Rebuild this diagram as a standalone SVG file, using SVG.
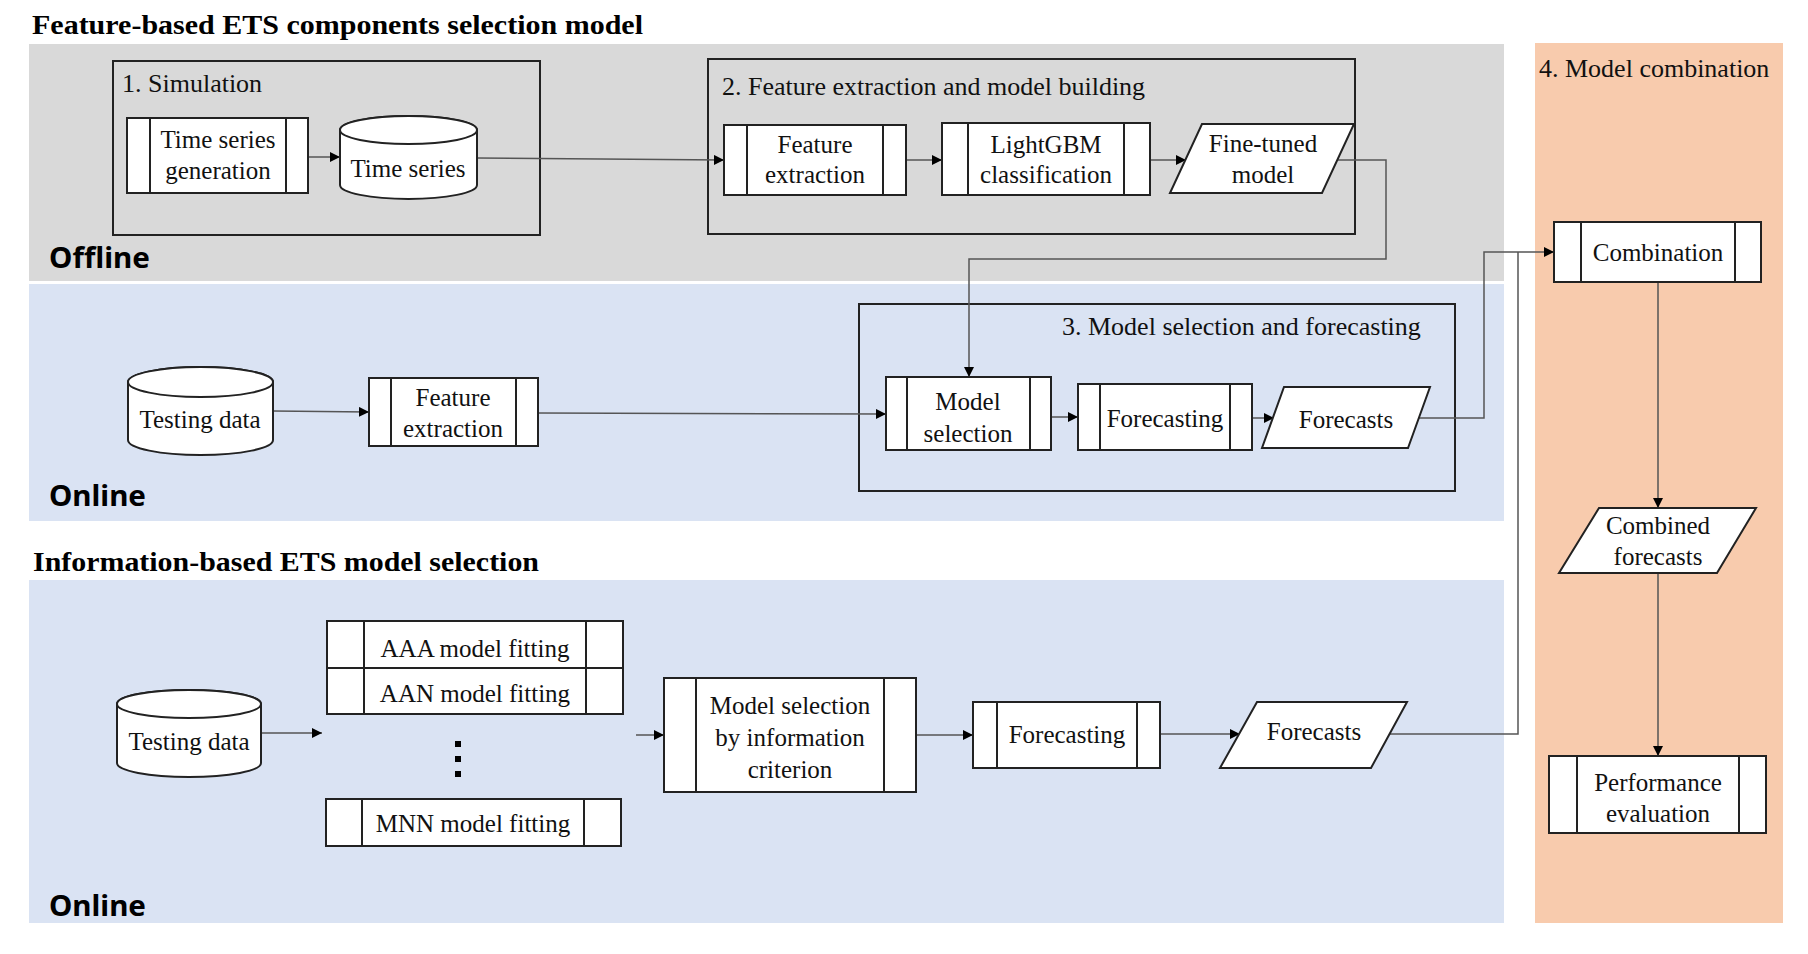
<svg xmlns="http://www.w3.org/2000/svg" width="1808" height="954" viewBox="0 0 1808 954">
<defs>
<style>
.t{font-family:"Liberation Serif","Times New Roman",serif;font-size:25px;fill:#111;text-anchor:middle}
.lbl{font-family:"Liberation Serif","Times New Roman",serif;font-size:26px;fill:#111}
.ttl{font-family:"Liberation Serif","Times New Roman",serif;font-size:27px;font-weight:bold;fill:#000}
.zone{font-family:"Noto Sans","Open Sans",sans-serif;font-size:29px;font-weight:bold;fill:#000}
.nd{fill:#fff;stroke:#222;stroke-width:2}
.grp{fill:none;stroke:#222;stroke-width:2}
.cn{fill:none;stroke:#555;stroke-width:1.5}
</style>
<marker id="ah" viewBox="0 0 10 10" refX="10" refY="5" markerWidth="10" markerHeight="10" markerUnits="userSpaceOnUse" orient="auto">
<path d="M0,0 L10,5 L0,10 Z" fill="#000"/>
</marker>
</defs>
<rect width="1808" height="954" fill="#fff"/>

<g id="bands">
<rect x="29" y="44" width="1475" height="237" fill="#d9d9d9"/>
<rect x="29" y="284" width="1475" height="237" fill="#dae3f3"/>
<rect x="29" y="580" width="1475" height="343" fill="#dae3f3"/>
<rect x="1535" y="43" width="248" height="880" fill="#f8cbad"/>
</g>

<g id="titles">
<text class="ttl" x="32" y="34" textLength="611" lengthAdjust="spacingAndGlyphs">Feature-based ETS components selection model</text>
<text class="ttl" x="33" y="571" textLength="506" lengthAdjust="spacingAndGlyphs">Information-based ETS model selection</text>
<text class="zone" x="49" y="268" textLength="101" lengthAdjust="spacingAndGlyphs">Offline</text>
<text class="zone" x="49" y="506" textLength="97" lengthAdjust="spacingAndGlyphs">Online</text>
<text class="zone" x="49" y="916" textLength="97" lengthAdjust="spacingAndGlyphs">Online</text>
</g>

<g id="group1">
<rect class="grp" x="113" y="61" width="427" height="174"/>
<text class="lbl" x="122" y="92">1. Simulation</text>
</g>
<g id="group2">
<rect class="grp" x="708" y="59" width="647" height="175"/>
<text class="lbl" x="722" y="95">2. Feature extraction and model building</text>
</g>
<g id="group3">
<rect class="grp" x="859" y="304" width="596" height="187"/>
<text class="lbl" x="1062" y="335">3. Model selection and forecasting</text>
</g>
<g id="group4">
<text class="lbl" x="1539" y="77">4. Model combination</text>
</g>

<g id="connectors">
<line class="cn" x1="308" y1="157" x2="340" y2="157" marker-end="url(#ah)"/>
<line class="cn" x1="477" y1="158" x2="724" y2="160" marker-end="url(#ah)"/>
<line class="cn" x1="906" y1="160" x2="942" y2="160" marker-end="url(#ah)"/>
<line class="cn" x1="1150" y1="160" x2="1186" y2="160" marker-end="url(#ah)"/>
<path class="cn" d="M1337,160 H1386 V259 H969 V377" marker-end="url(#ah)"/>
<line class="cn" x1="273" y1="411" x2="369" y2="412" marker-end="url(#ah)"/>
<line class="cn" x1="538" y1="413" x2="886" y2="414" marker-end="url(#ah)"/>
<line class="cn" x1="1051" y1="417" x2="1078" y2="417" marker-end="url(#ah)"/>
<line class="cn" x1="1252" y1="418" x2="1274" y2="418" marker-end="url(#ah)"/>
<path class="cn" d="M1419,418 H1484 V252 H1554" marker-end="url(#ah)"/>
<line class="cn" x1="261" y1="733" x2="322" y2="733" marker-end="url(#ah)"/>
<line class="cn" x1="636" y1="735" x2="664" y2="735" marker-end="url(#ah)"/>
<line class="cn" x1="916" y1="735" x2="973" y2="735" marker-end="url(#ah)"/>
<line class="cn" x1="1160" y1="734" x2="1240" y2="734" marker-end="url(#ah)"/>
<path class="cn" d="M1389,734 H1518 V252"/>
<line class="cn" x1="1658" y1="282" x2="1658" y2="508" marker-end="url(#ah)"/>
<line class="cn" x1="1658" y1="573" x2="1658" y2="756" marker-end="url(#ah)"/>
</g>

<g id="n-tsgen">
<rect class="nd" x="127" y="118" width="181" height="75"/>
<line class="nd" x1="150" y1="118" x2="150" y2="193"/>
<line class="nd" x1="286" y1="118" x2="286" y2="193"/>
<text class="t" x="218" y="148">Time series</text>
<text class="t" x="218" y="179">generation</text>
</g>
<g id="n-ts">
<path class="nd" d="M340,130 V185 A68.5,14 0 0 0 477,185 V130 A68.5,14 0 0 0 340,130 Z"/>
<ellipse class="nd" cx="408.5" cy="130" rx="68.5" ry="14"/>
<text class="t" x="408" y="177">Time series</text>
</g>
<g id="n-fe1">
<rect class="nd" x="724" y="125" width="182" height="70"/>
<line class="nd" x1="747" y1="125" x2="747" y2="195"/>
<line class="nd" x1="883" y1="125" x2="883" y2="195"/>
<text class="t" x="815" y="153">Feature</text>
<text class="t" x="815" y="183">extraction</text>
</g>
<g id="n-lgbm">
<rect class="nd" x="942" y="123" width="208" height="72"/>
<line class="nd" x1="968" y1="123" x2="968" y2="195"/>
<line class="nd" x1="1124" y1="123" x2="1124" y2="195"/>
<text class="t" x="1046" y="153">LightGBM</text>
<text class="t" x="1046" y="183">classification</text>
</g>
<g id="n-fine">
<polygon class="nd" points="1202,124 1354,124 1322,193 1170,193"/>
<text class="t" x="1263" y="152">Fine-tuned</text>
<text class="t" x="1263" y="183">model</text>
</g>

<g id="n-test1">
<path class="nd" d="M128,382 V440 A72.5,15 0 0 0 273,440 V382 A72.5,15 0 0 0 128,382 Z"/>
<ellipse class="nd" cx="200.5" cy="382" rx="72.5" ry="15"/>
<text class="t" x="200" y="428">Testing data</text>
</g>
<g id="n-fe2">
<rect class="nd" x="369" y="378" width="169" height="68"/>
<line class="nd" x1="391" y1="378" x2="391" y2="446"/>
<line class="nd" x1="516" y1="378" x2="516" y2="446"/>
<text class="t" x="453" y="406">Feature</text>
<text class="t" x="453" y="437">extraction</text>
</g>
<g id="n-msel">
<rect class="nd" x="886" y="377" width="165" height="73"/>
<line class="nd" x1="907" y1="377" x2="907" y2="450"/>
<line class="nd" x1="1030" y1="377" x2="1030" y2="450"/>
<text class="t" x="968" y="410">Model</text>
<text class="t" x="968" y="442">selection</text>
</g>
<g id="n-fc1">
<rect class="nd" x="1078" y="384" width="174" height="66"/>
<line class="nd" x1="1100" y1="384" x2="1100" y2="450"/>
<line class="nd" x1="1230" y1="384" x2="1230" y2="450"/>
<text class="t" x="1165" y="427">Forecasting</text>
</g>
<g id="n-fcs1">
<polygon class="nd" points="1284,387 1430,387 1408,448 1262,448"/>
<text class="t" x="1346" y="428">Forecasts</text>
</g>

<g id="n-test2">
<path class="nd" d="M117,704 V763 A72,14 0 0 0 261,763 V704 A72,14 0 0 0 117,704 Z"/>
<ellipse class="nd" cx="189" cy="704" rx="72" ry="14"/>
<text class="t" x="189" y="750">Testing data</text>
</g>
<g id="n-aaa">
<rect class="nd" x="327" y="621" width="296" height="47"/>
<line class="nd" x1="364" y1="621" x2="364" y2="668"/>
<line class="nd" x1="586" y1="621" x2="586" y2="668"/>
<text class="t" x="475" y="657">AAA model fitting</text>
</g>
<g id="n-aan">
<rect class="nd" x="327" y="668" width="296" height="46"/>
<line class="nd" x1="364" y1="668" x2="364" y2="714"/>
<line class="nd" x1="586" y1="668" x2="586" y2="714"/>
<text class="t" x="475" y="702">AAN model fitting</text>
</g>
<g id="dots">
<rect x="455" y="741" width="6" height="6" fill="#000"/>
<rect x="455" y="756" width="6" height="6" fill="#000"/>
<rect x="455" y="771" width="6" height="6" fill="#000"/>
</g>
<g id="n-mnn">
<rect class="nd" x="326" y="799" width="295" height="47"/>
<line class="nd" x1="362" y1="799" x2="362" y2="846"/>
<line class="nd" x1="584" y1="799" x2="584" y2="846"/>
<text class="t" x="473" y="832">MNN model fitting</text>
</g>
<g id="n-msic">
<rect class="nd" x="664" y="678" width="252" height="114"/>
<line class="nd" x1="696" y1="678" x2="696" y2="792"/>
<line class="nd" x1="884" y1="678" x2="884" y2="792"/>
<text class="t" x="790" y="714">Model selection</text>
<text class="t" x="790" y="746">by information</text>
<text class="t" x="790" y="778">criterion</text>
</g>
<g id="n-fc2">
<rect class="nd" x="973" y="702" width="187" height="66"/>
<line class="nd" x1="997" y1="702" x2="997" y2="768"/>
<line class="nd" x1="1137" y1="702" x2="1137" y2="768"/>
<text class="t" x="1067" y="743">Forecasting</text>
</g>
<g id="n-fcs2">
<polygon class="nd" points="1257,702 1407,702 1371,768 1220,768"/>
<text class="t" x="1314" y="740">Forecasts</text>
</g>

<g id="n-comb">
<rect class="nd" x="1554" y="222" width="207" height="60"/>
<line class="nd" x1="1581" y1="222" x2="1581" y2="282"/>
<line class="nd" x1="1735" y1="222" x2="1735" y2="282"/>
<text class="t" x="1658" y="261">Combination</text>
</g>
<g id="n-combfc">
<polygon class="nd" points="1599,508 1756,508 1717,573 1559,573"/>
<text class="t" x="1658" y="534">Combined</text>
<text class="t" x="1658" y="565">forecasts</text>
</g>
<g id="n-perf">
<rect class="nd" x="1549" y="756" width="217" height="77"/>
<line class="nd" x1="1577" y1="756" x2="1577" y2="833"/>
<line class="nd" x1="1739" y1="756" x2="1739" y2="833"/>
<text class="t" x="1658" y="791">Performance</text>
<text class="t" x="1658" y="822">evaluation</text>
</g>
</svg>
